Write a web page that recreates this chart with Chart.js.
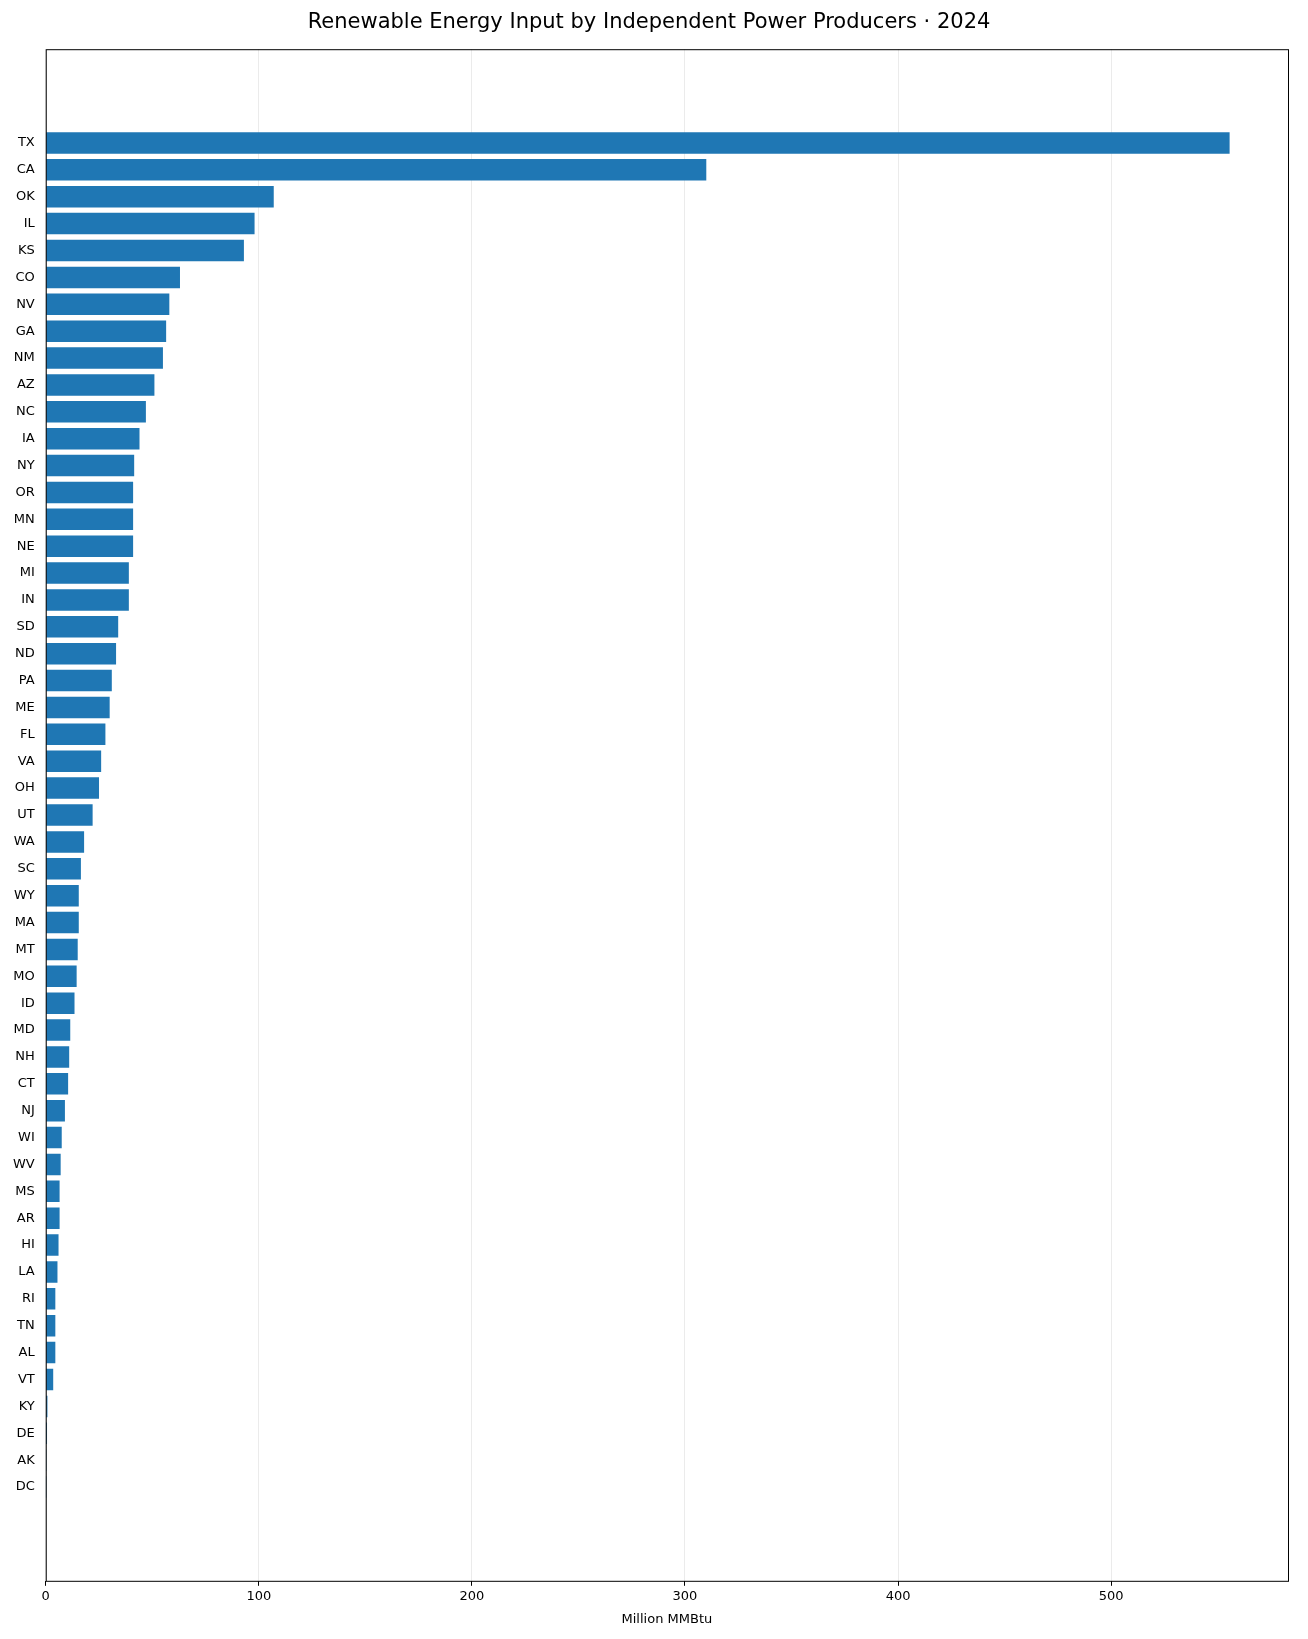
<!DOCTYPE html>
<html><head><meta charset="utf-8">
<script src="https://cdn.jsdelivr.net/npm/chart.js@4"></script>
<style>html,body{margin:0;padding:0;background:#fff}#w{width:1308px;height:1639px}</style>
</head><body><div id="w"><canvas id="c"></canvas></div>
<script>
const states=["TX","CA","OK","IL","KS","CO","NV","GA","NM","AZ","NC","IA","NY","OR","MN","NE","MI","IN","SD","ND","PA","ME","FL","VA","OH","UT","WA","SC","WY","MA","MT","MO","ID","MD","NH","CT","NJ","WI","WV","MS","AR","HI","LA","RI","TN","AL","VT","KY","DE","AK","DC"];
const values=[555.6,310,107,98,93,63,58,56.5,55,51,47,44,41.5,41,41,41,39,39,34,33,31,30,28,26,25,22,18,16.5,15.5,15.5,15,14.5,13.5,11.5,11,10.5,9,7.5,7,6.5,6.5,6,5.5,4.5,4.5,4.5,3.5,0.8,0.6,0.1,0.05];
const xTicks=[0,100,200,300,400,500];
const frame={id:'frame',afterDraw(ch){const a=ch.chartArea,c=ch.ctx;c.save();c.strokeStyle='#000';c.lineWidth=1;c.strokeRect(a.left+0.5,a.top+0.5,a.right-a.left,a.bottom-a.top);c.restore();}};
Chart.defaults.font.family='"DejaVu Sans",sans-serif';
Chart.defaults.color='#000';
new Chart(document.getElementById('c'),{type:'bar',
data:{datasets:[{data:values.map((v,i)=>({x:v,y:i})),backgroundColor:'#1f77b4',barPercentage:0.8,categoryPercentage:1}]},
options:{indexAxis:'y',responsive:true,maintainAspectRatio:false,animation:false,
layout:{padding:{left:10,right:20,top:0,bottom:8}},
plugins:{legend:{display:false},tooltip:{enabled:false},title:{display:true,text:'Renewable Energy Input by Independent Power Producers · 2024',font:{size:21,weight:'normal'},padding:{top:10,bottom:14}}},
scales:{
x:{type:'linear',min:0,max:583,afterBuildTicks(s){s.ticks=xTicks.map(v=>({value:v}));},grid:{color:'#ebebeb',drawTicks:true,tickColor:'#000',tickLength:5},border:{display:false},ticks:{font:{size:13}},title:{display:true,text:'Million MMBtu',font:{size:13}}},
y:{type:'linear',reverse:true,min:-2.93,max:52.93,afterBuildTicks(s){s.ticks=states.map((_,i)=>({value:i}));},grid:{display:false,drawTicks:true},border:{display:false},ticks:{autoSkip:false,font:{size:13},callback:(v)=>states[v]??''}}
}},plugins:[frame]});
</script></body></html>
